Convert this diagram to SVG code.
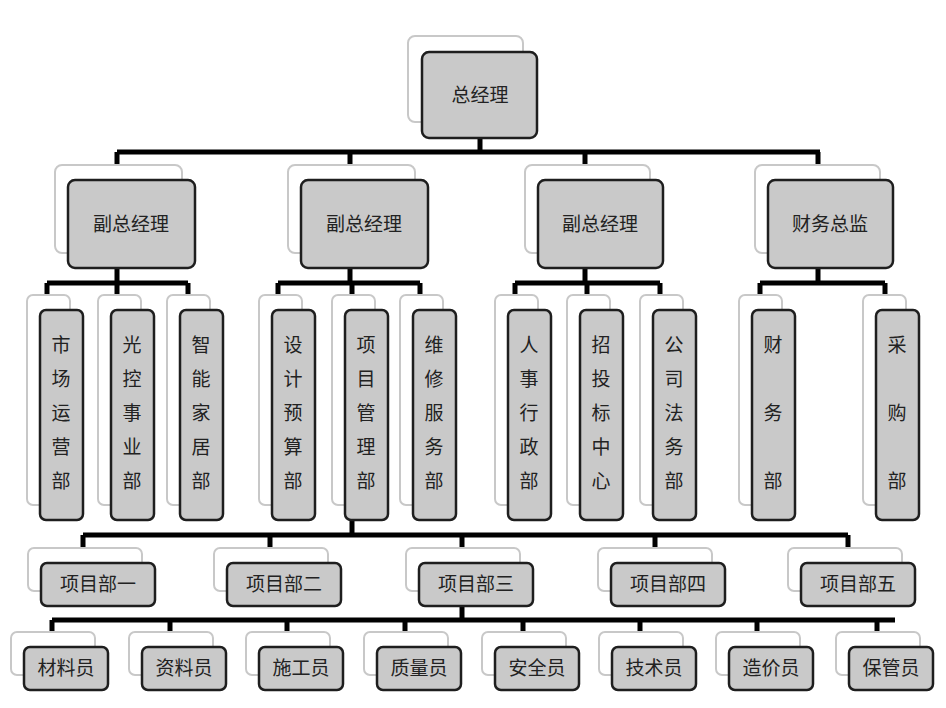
<svg xmlns="http://www.w3.org/2000/svg" width="946" height="708" viewBox="0 0 946 708">
<style>
.b{fill:#fff;stroke:#c8c8c8;stroke-width:2}
.g{fill:#c9c9c9;stroke:#1e1e1e;stroke-width:2.5}
.l{stroke:#000;stroke-width:5;fill:none}
text{font-family:"Noto Sans CJK SC",sans-serif;font-size:19px;fill:#222;text-anchor:middle}
</style>
<rect width="946" height="708" fill="#fff"/>
<g id="connectors">
<path class="l" d="M480 138V152M117 152H820M117 152V180M350 152V180M585 152V180M818 152V180"/>
<path class="l" d="M117 268V283M47 283H188M47 283V310M117 283V310M188 283V310"/>
<path class="l" d="M350 268V283M278 283H420M278 283V310M352 283V310M420 283V310"/>
<path class="l" d="M585 268V283M515 283H660M515 283V310M587 283V310M660 283V310"/>
<path class="l" d="M818 268V283M760 283H885M760 283V310M885 283V310"/>
<path class="l" d="M352 520V535M83 535H848M83 535V563M270 535V563M462 535V563M655 535V563M848 535V563"/>
<path class="l" d="M462 606V620M52 620H895M52 620V647M170 620V647M287 620V647M405 620V647M523 620V647M640 620V647M757 620V647M877 620V647"/>
</g>
<g id="n0"><rect class="b" x="408" y="36" width="115" height="86" rx="7"/><rect class="g" x="422" y="52" width="115" height="86" rx="7"/><text x="480" y="102">总经理</text></g>
<g id="n1"><rect class="b" x="55" y="165" width="127" height="88" rx="7"/><rect class="g" x="68" y="180" width="127" height="88" rx="7"/><text x="131" y="231">副总经理</text></g>
<g id="n2"><rect class="b" x="288" y="165" width="127" height="88" rx="7"/><rect class="g" x="301" y="180" width="127" height="88" rx="7"/><text x="364" y="231">副总经理</text></g>
<g id="n3"><rect class="b" x="525" y="165" width="125" height="88" rx="7"/><rect class="g" x="538" y="180" width="125" height="88" rx="7"/><text x="600" y="231">副总经理</text></g>
<g id="n4"><rect class="b" x="755" y="165" width="125" height="88" rx="7"/><rect class="g" x="768" y="180" width="125" height="88" rx="7"/><text x="830" y="231">财务总监</text></g>
<g id="v1"><rect class="b" x="27" y="295" width="43" height="210" rx="6"/><rect class="g" x="40" y="310" width="43" height="210" rx="6"/><text x="61" y="352">市</text><text x="61" y="386">场</text><text x="61" y="420">运</text><text x="61" y="454">营</text><text x="61" y="488">部</text></g>
<g id="v2"><rect class="b" x="98" y="295" width="43" height="210" rx="6"/><rect class="g" x="111" y="310" width="43" height="210" rx="6"/><text x="132" y="352">光</text><text x="132" y="386">控</text><text x="132" y="420">事</text><text x="132" y="454">业</text><text x="132" y="488">部</text></g>
<g id="v3"><rect class="b" x="167" y="295" width="43" height="210" rx="6"/><rect class="g" x="180" y="310" width="43" height="210" rx="6"/><text x="201" y="352">智</text><text x="201" y="386">能</text><text x="201" y="420">家</text><text x="201" y="454">居</text><text x="201" y="488">部</text></g>
<g id="v4"><rect class="b" x="259" y="295" width="43" height="210" rx="6"/><rect class="g" x="272" y="310" width="43" height="210" rx="6"/><text x="293" y="352">设</text><text x="293" y="386">计</text><text x="293" y="420">预</text><text x="293" y="454">算</text><text x="293" y="488">部</text></g>
<g id="v5"><rect class="b" x="332" y="295" width="43" height="210" rx="6"/><rect class="g" x="345" y="310" width="43" height="210" rx="6"/><text x="366" y="352">项</text><text x="366" y="386">目</text><text x="366" y="420">管</text><text x="366" y="454">理</text><text x="366" y="488">部</text></g>
<g id="v6"><rect class="b" x="400" y="295" width="43" height="210" rx="6"/><rect class="g" x="413" y="310" width="43" height="210" rx="6"/><text x="434" y="352">维</text><text x="434" y="386">修</text><text x="434" y="420">服</text><text x="434" y="454">务</text><text x="434" y="488">部</text></g>
<g id="v7"><rect class="b" x="495" y="295" width="43" height="210" rx="6"/><rect class="g" x="508" y="310" width="43" height="210" rx="6"/><text x="529" y="352">人</text><text x="529" y="386">事</text><text x="529" y="420">行</text><text x="529" y="454">政</text><text x="529" y="488">部</text></g>
<g id="v8"><rect class="b" x="567" y="295" width="43" height="210" rx="6"/><rect class="g" x="580" y="310" width="43" height="210" rx="6"/><text x="601" y="352">招</text><text x="601" y="386">投</text><text x="601" y="420">标</text><text x="601" y="454">中</text><text x="601" y="488">心</text></g>
<g id="v9"><rect class="b" x="640" y="295" width="43" height="210" rx="6"/><rect class="g" x="653" y="310" width="43" height="210" rx="6"/><text x="674" y="352">公</text><text x="674" y="386">司</text><text x="674" y="420">法</text><text x="674" y="454">务</text><text x="674" y="488">部</text></g>
<g id="v10"><rect class="b" x="739" y="295" width="43" height="210" rx="6"/><rect class="g" x="752" y="310" width="43" height="210" rx="6"/><text x="773" y="352">财</text><text x="773" y="420">务</text><text x="773" y="488">部</text></g>
<g id="v11"><rect class="b" x="863" y="295" width="43" height="210" rx="6"/><rect class="g" x="876" y="310" width="43" height="210" rx="6"/><text x="897" y="352">采</text><text x="897" y="420">购</text><text x="897" y="488">部</text></g>
<g id="p1"><rect class="b" x="28" y="548" width="114" height="43" rx="6"/><rect class="g" x="41" y="563" width="114" height="43" rx="6"/><text x="98" y="591">项目部一</text></g>
<g id="p2"><rect class="b" x="214" y="548" width="114" height="43" rx="6"/><rect class="g" x="227" y="563" width="114" height="43" rx="6"/><text x="284" y="591">项目部二</text></g>
<g id="p3"><rect class="b" x="406" y="548" width="114" height="43" rx="6"/><rect class="g" x="419" y="563" width="114" height="43" rx="6"/><text x="476" y="591">项目部三</text></g>
<g id="p4"><rect class="b" x="598" y="548" width="114" height="43" rx="6"/><rect class="g" x="611" y="563" width="114" height="43" rx="6"/><text x="668" y="591">项目部四</text></g>
<g id="p5"><rect class="b" x="788" y="548" width="114" height="43" rx="6"/><rect class="g" x="801" y="563" width="114" height="43" rx="6"/><text x="858" y="591">项目部五</text></g>
<g id="s1"><rect class="b" x="11" y="632" width="84" height="43" rx="6"/><rect class="g" x="24" y="647" width="84" height="43" rx="6"/><text x="66" y="675">材料员</text></g>
<g id="s2"><rect class="b" x="129" y="632" width="84" height="43" rx="6"/><rect class="g" x="142" y="647" width="84" height="43" rx="6"/><text x="184" y="675">资料员</text></g>
<g id="s3"><rect class="b" x="246" y="632" width="84" height="43" rx="6"/><rect class="g" x="259" y="647" width="84" height="43" rx="6"/><text x="301" y="675">施工员</text></g>
<g id="s4"><rect class="b" x="364" y="632" width="84" height="43" rx="6"/><rect class="g" x="377" y="647" width="84" height="43" rx="6"/><text x="419" y="675">质量员</text></g>
<g id="s5"><rect class="b" x="482" y="632" width="84" height="43" rx="6"/><rect class="g" x="495" y="647" width="84" height="43" rx="6"/><text x="537" y="675">安全员</text></g>
<g id="s6"><rect class="b" x="599" y="632" width="84" height="43" rx="6"/><rect class="g" x="612" y="647" width="84" height="43" rx="6"/><text x="654" y="675">技术员</text></g>
<g id="s7"><rect class="b" x="716" y="632" width="84" height="43" rx="6"/><rect class="g" x="729" y="647" width="84" height="43" rx="6"/><text x="771" y="675">造价员</text></g>
<g id="s8"><rect class="b" x="836" y="632" width="84" height="43" rx="6"/><rect class="g" x="849" y="647" width="84" height="43" rx="6"/><text x="891" y="675">保管员</text></g>
</svg>
